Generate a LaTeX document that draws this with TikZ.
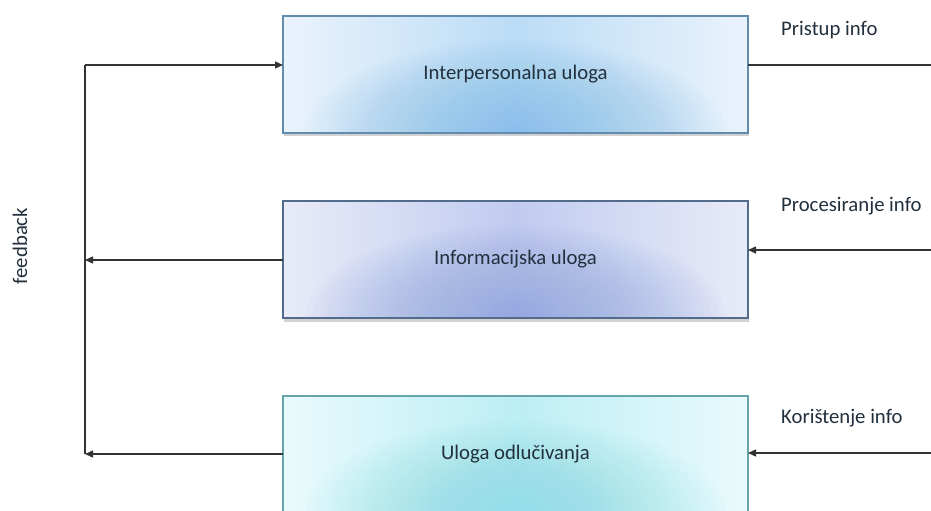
\documentclass[tikz,border=0pt]{standalone}
\usepackage{fontspec}
\setmainfont{Carlito}
\usetikzlibrary{arrows.meta,shadows}
\definecolor{txt}{HTML}{22303E}
\definecolor{ln}{HTML}{333333}
\definecolor{aEdge}{HTML}{EAF3FC}\definecolor{aMid}{HTML}{BBDCF6}\definecolor{aGlow}{HTML}{7FBDEC}\definecolor{aBrd}{HTML}{628CAE}
\definecolor{bEdge}{HTML}{E8EBF8}\definecolor{bMid}{HTML}{C0CBEF}\definecolor{bGlow}{HTML}{8CA3E2}\definecolor{bBrd}{HTML}{536C8B}
\definecolor{cEdge}{HTML}{EAFAFC}\definecolor{cMid}{HTML}{BCEEF5}\definecolor{cGlow}{HTML}{88DEE9}\definecolor{cBrd}{HTML}{65A5AA}
\begin{document}
\begin{tikzpicture}[x=1bp,y=-1bp,
  rolebox/.style n args={4}{rectangle, draw=#4, line width=1.5bp,
    minimum width=465bp, minimum height=117bp, inner sep=0pt, outer sep=0pt,
    left color=#1, right color=#1, middle color=#2,
    path picture={\foreach \r in {1,...,30}
      \fill[#3, opacity=0.036] (path picture bounding box.south) ellipse ({\r*7bp} and {\r*3.1bp});},
    drop shadow={opacity=0.35, shadow xshift=1bp, shadow yshift=-3.5bp},
    font=\fontsize{20.8}{24}\selectfont, text=txt},
  lbl/.style={font=\fontsize{20.8}{24}\selectfont, text=txt, inner sep=0pt},
  conn/.style={draw=ln, line width=1.3bp},
  arr/.style={conn, -{Triangle[length=8bp,width=7bp]}}]
\clip (0,0) rectangle (931,511);
\fill[white] (0,0) rectangle (931,511);
\node[rolebox={aEdge}{aMid}{aGlow}{aBrd}] (b1) at (515.5,74.5) {Interpersonalna uloga};
\node[rolebox={bEdge}{bMid}{bGlow}{bBrd}] (b2) at (515.5,259.5) {Informacijska uloga};
\node[rolebox={cEdge}{cMid}{cGlow}{cBrd}] (b3) at (515.5,454.5) {Uloga odlučivanja};
\coordinate (fbTop) at (85,65);
\coordinate (fbMid) at (85,260);
\coordinate (fbBot) at (85,454);
\coordinate (r1) at (932,65);
\coordinate (r2) at (932,250);
\coordinate (r3) at (932,453);
\draw[conn] (fbBot) -- (fbTop);
\draw[arr] (fbTop) -- (b1.west |- fbTop);
\draw[arr] (b2.west |- fbMid) -- (fbMid);
\draw[arr] (b3.west |- fbBot) -- (fbBot);
\draw[conn] (b1.east |- r1) -- (r1);
\draw[arr] (r2) -- (b2.east |- r2);
\draw[arr] (r3) -- (b3.east |- r3);
\node[lbl, anchor=west] (l1) at (781,30) {Pristup info};
\node[lbl, anchor=west] (l2) at (781,206) {Procesiranje info};
\node[lbl, anchor=west] (l3) at (781,418) {Korištenje info};
\node[lbl, rotate=90] (fb) at (20,246) {feedback};
\end{tikzpicture}
\end{document}
